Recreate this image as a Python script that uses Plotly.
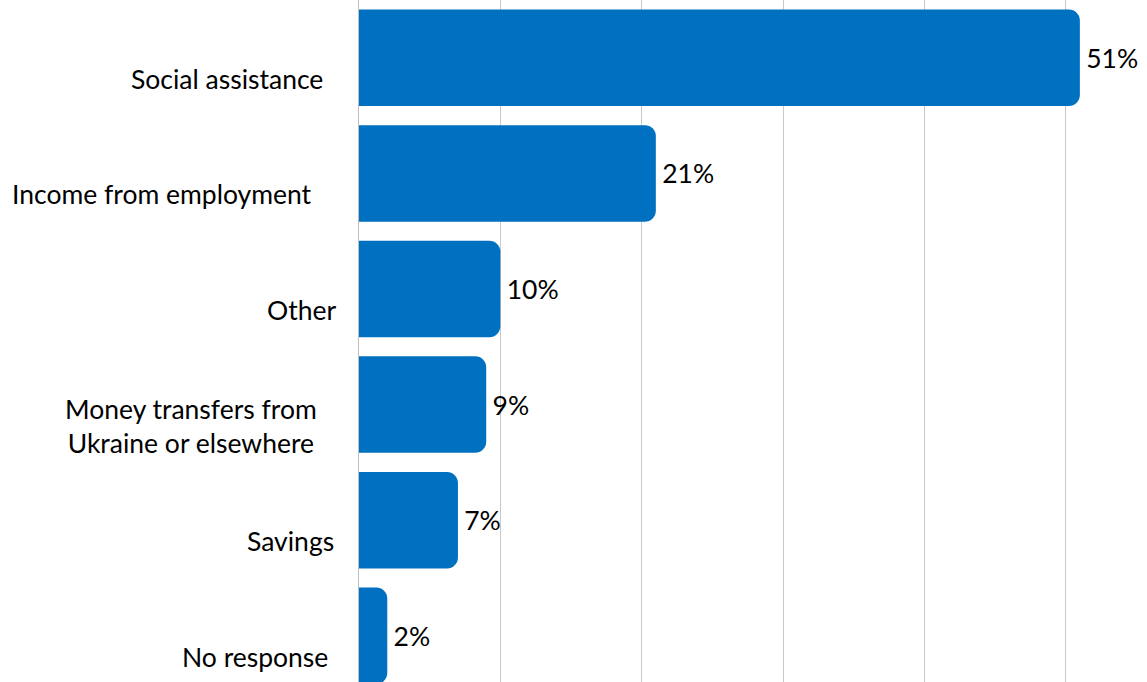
import plotly.graph_objects as go

# Sources of income (share of respondents, %)
categories = [
    "Social assistance",
    "Income from employment",
    "Other",
    "Money transfers from<br>Ukraine or elsewhere",
    "Savings",
    "No response",
]
values = [51, 21, 10, 9, 7, 2]

# Where each category label ends (px left of the zero line)
label_xshift = [-34, -45, -21, -40, -23, -29]

BAR_COLOR = "#0070C0"
FONT = "Lato, 'Noto Sans', sans-serif"
FONT_SIZE = 26.5

fig = go.Figure(
    go.Bar(
        x=values,
        y=list(range(len(categories))),
        orientation="h",
        marker=dict(color=BAR_COLOR, line=dict(width=0)),
        text=values,
        texttemplate="\u2009%{text}%",
        textposition="outside",
        textfont=dict(family=FONT, size=FONT_SIZE, color="#000000"),
        cliponaxis=False,
        hoverinfo="skip",
    )
)

for i, (cat, dx) in enumerate(zip(categories, label_xshift)):
    fig.add_annotation(
        x=0, y=i, xref="x", yref="y",
        text=cat, showarrow=False,
        xanchor="right", yanchor="middle", align="center",
        xshift=dx, yshift=-21,
        font=dict(family=FONT, size=FONT_SIZE, color="#000000"),
    )

fig.update_layout(
    width=1147, height=682,
    margin=dict(l=359, r=0, t=0, b=0),
    paper_bgcolor="white", plot_bgcolor="white",
    bargap=0.165,
    barcornerradius=11,
    showlegend=False,
    font=dict(family=FONT),
)
fig.update_xaxes(
    range=[0, 55.75],
    tickvals=[10, 20, 30, 40, 50],
    showticklabels=False,
    showgrid=True, gridcolor="#c9c9c9", gridwidth=1,
    zeroline=False, showline=False,
)
fig.update_yaxes(
    range=[5.4, -0.5],
    showticklabels=False,
    showgrid=False, zeroline=False,
    showline=True, linecolor="#bfbfbf", linewidth=1,
)

fig.write_html("out.html")
